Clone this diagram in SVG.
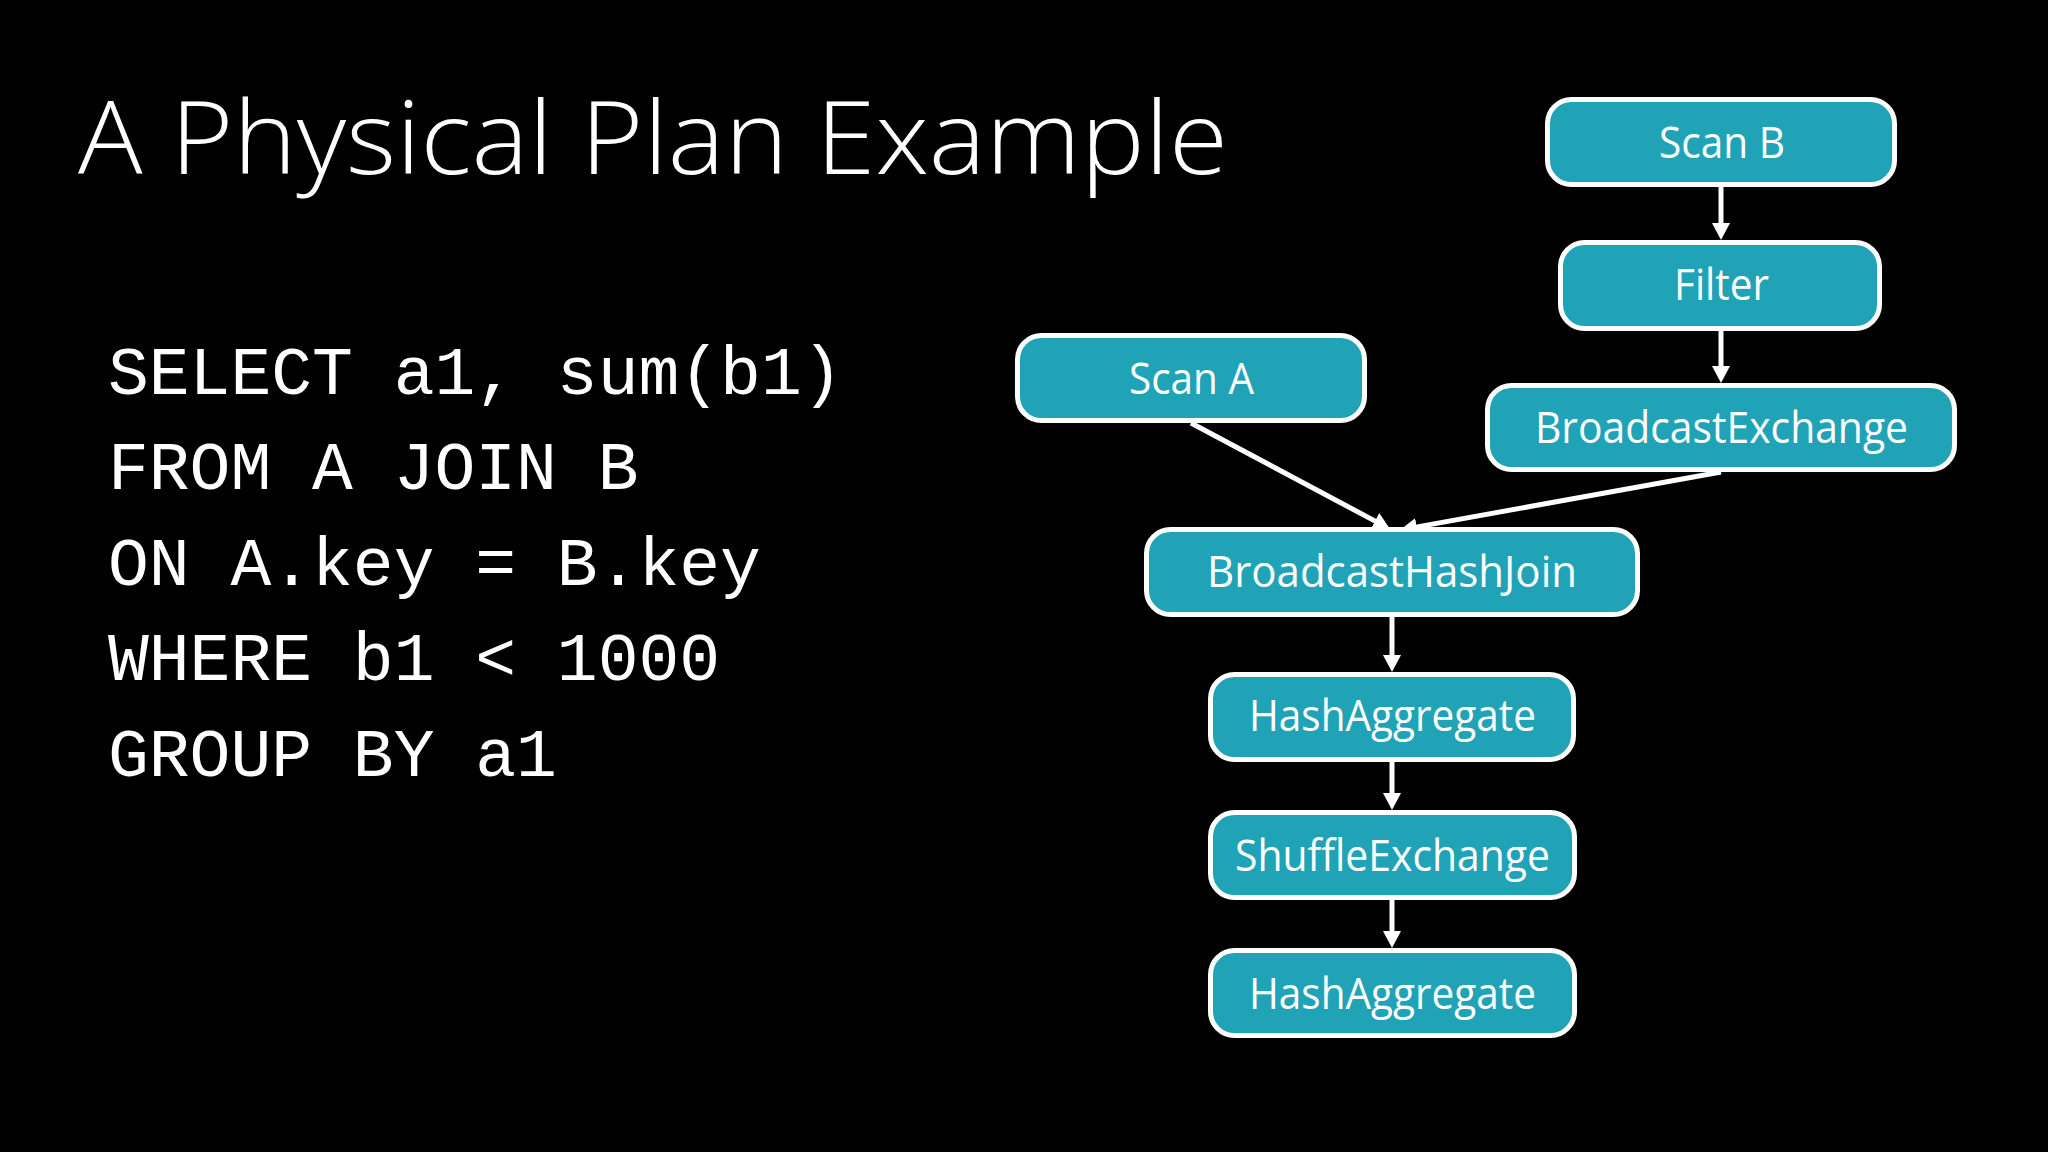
<svg xmlns="http://www.w3.org/2000/svg" width="2048" height="1152" viewBox="0 0 2048 1152">
  <style>
    .node rect { fill: #20a3b6; stroke: #ffffff; stroke-width: 5; }
    .node text { fill: #ffffff; font-family: "Open Sans", "Noto Sans", "Liberation Sans", sans-serif; font-size: 43px; text-anchor: middle; }
    .title { fill: #ffffff; font-family: "Open Sans", "Noto Sans", "Liberation Sans", sans-serif; font-size: 102px; font-weight: 300; }
    .sql { fill: #ffffff; font-family: "Courier New", "Liberation Mono", monospace; font-size: 68px; white-space: pre; }
    .edge { stroke: #ffffff; stroke-width: 5; fill: none; marker-end: url(#arrow); }
  </style>
  <defs>
    <marker id="arrow" markerUnits="userSpaceOnUse" markerWidth="18" markerHeight="18" refX="5" refY="9" orient="auto">
      <path d="M0,0 L17,9 L0,18 z" fill="#ffffff"/>
    </marker>
  </defs>
  <rect x="0" y="0" width="2048" height="1152" fill="#000000"/>

  <text class="title" x="78" y="174" textLength="1150" lengthAdjust="spacingAndGlyphs">A Physical Plan Example</text>

  <g id="sql">
    <text class="sql" x="108" y="394" xml:space="preserve">SELECT a1, sum(b1)</text>
    <text class="sql" x="108" y="489" xml:space="preserve">FROM A JOIN B</text>
    <text class="sql" x="108" y="585" xml:space="preserve">ON A.key = B.key</text>
    <text class="sql" x="108" y="680" xml:space="preserve">WHERE b1 &lt; 1000</text>
    <text class="sql" x="108" y="776" xml:space="preserve">GROUP BY a1</text>
  </g>

  <g id="connectors">
    <line class="edge" x1="1721" y1="187" x2="1721" y2="228"/>
    <line class="edge" x1="1721" y1="331" x2="1721" y2="371"/>
    <line class="edge" x1="1191" y1="423" x2="1379.4" y2="523.4"/>
    <line class="edge" x1="1721" y1="472" x2="1411.8" y2="527.9"/>
    <line class="edge" x1="1392" y1="617" x2="1392" y2="660"/>
    <line class="edge" x1="1392" y1="762" x2="1392" y2="798"/>
    <line class="edge" x1="1392" y1="900" x2="1392" y2="936"/>
  </g>

  <g id="scan-b" class="node">
    <rect x="1547.5" y="99.5" width="347" height="85" rx="24"/>
    <text x="1722" y="158" textLength="126" lengthAdjust="spacingAndGlyphs">Scan B</text>
  </g>
  <g id="filter" class="node">
    <rect x="1560.5" y="242.5" width="319" height="86" rx="24"/>
    <text x="1721.5" y="300" textLength="95" lengthAdjust="spacingAndGlyphs">Filter</text>
  </g>
  <g id="scan-a" class="node">
    <rect x="1017.5" y="335.5" width="347" height="85" rx="24"/>
    <text x="1191.5" y="394" textLength="125" lengthAdjust="spacingAndGlyphs">Scan A</text>
  </g>
  <g id="broadcast-exchange" class="node">
    <rect x="1487.5" y="385.5" width="467" height="84" rx="24"/>
    <text x="1721.5" y="443" textLength="373" lengthAdjust="spacingAndGlyphs">BroadcastExchange</text>
  </g>
  <g id="broadcast-hash-join" class="node">
    <rect x="1146.5" y="529.5" width="491" height="85" rx="24"/>
    <text x="1392" y="587" textLength="370" lengthAdjust="spacingAndGlyphs">BroadcastHashJoin</text>
  </g>
  <g id="hash-aggregate-1" class="node">
    <rect x="1210.5" y="674.5" width="363" height="85" rx="24"/>
    <text x="1392.5" y="731" textLength="287" lengthAdjust="spacingAndGlyphs">HashAggregate</text>
  </g>
  <g id="shuffle-exchange" class="node">
    <rect x="1210.5" y="812.5" width="364" height="85" rx="24"/>
    <text x="1392.5" y="871" textLength="315" lengthAdjust="spacingAndGlyphs">ShuffleExchange</text>
  </g>
  <g id="hash-aggregate-2" class="node">
    <rect x="1210.5" y="950.5" width="364" height="85" rx="24"/>
    <text x="1392.5" y="1009" textLength="287" lengthAdjust="spacingAndGlyphs">HashAggregate</text>
  </g>
</svg>
